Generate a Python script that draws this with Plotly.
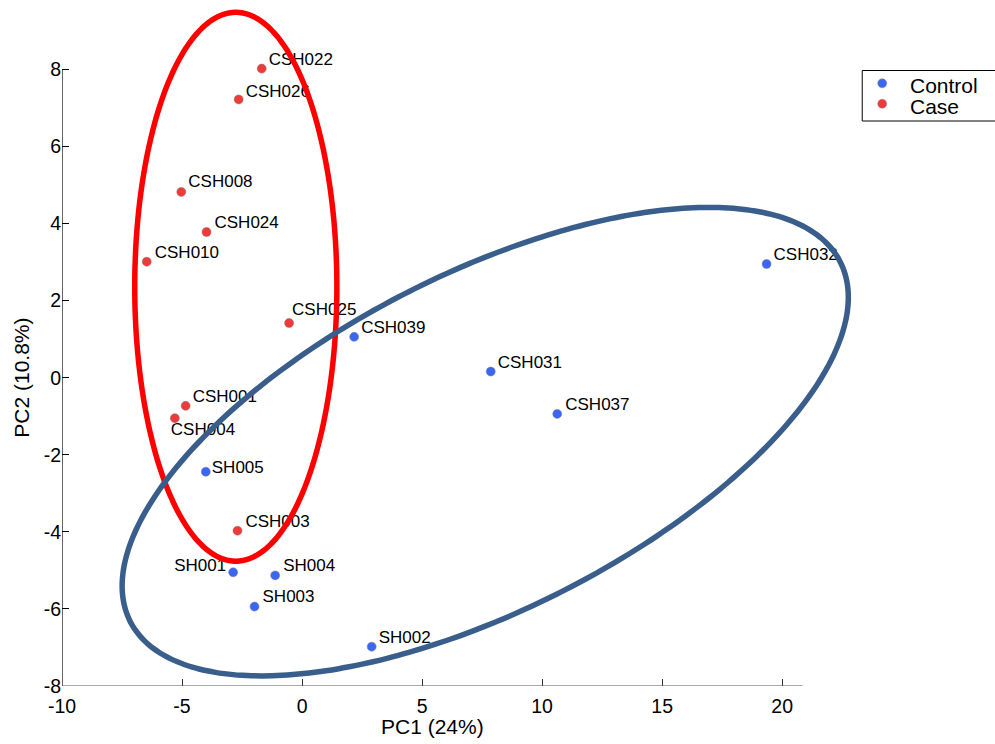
import numpy as np
import plotly.graph_objects as go

# ---------------- data ----------------
case_names = ["CSH022", "CSH026", "CSH008", "CSH024", "CSH010", "CSH025", "CSH001", "CSH004", "CSH003"]
case_pc1 = [-1.68, -2.64, -5.03, -3.98, -6.47, -0.54, -4.85, -5.30, -2.69]
case_pc2 = [8.02, 7.22, 4.82, 3.78, 3.01, 1.42, -0.73, -1.05, -3.97]

ctrl_names = ["CSH032", "CSH039", "CSH031", "CSH037", "SH005", "SH001", "SH004", "SH003", "SH002"]
ctrl_pc1 = [19.35, 2.17, 7.86, 10.63, -4.01, -2.87, -1.12, -1.98, 2.90]
ctrl_pc2 = [2.95, 1.06, 0.16, -0.94, -2.44, -5.05, -5.13, -5.94, -6.98]

# ellipse parameters: centre x, centre y, sd x, sd y, correlation
case_ellipse = [-2.76, 2.36, 4.21, 7.12, 0.0]
ctrl_ellipse = [7.63, -1.66, 15.125, 6.078, 0.616]

x_ticks = [-10, -5, 0, 5, 10, 15, 20]
x_ticktext = ["-10", "-5", "0", "5", "10", "15", "20"]
y_ticks = [-8, -6, -4, -2, 0, 2, 4, 6, 8]
y_ticktext = ["-8", "-6", "-4", "-2", "0", "2", "4", "6", "8"]
x_axis_end = 20.85
y_axis_end = 8

legend_names = ["Control", "Case"]

# ---------------- layout geometry ----------------
W, H = 995, 744
ML, MT, MB = 62, 0, 58
XR = [-10, 23.2]
YR = [-8, 9.8]
PXX = 24.02
PW = PXX * (XR[1] - XR[0])
MR = W - ML - PW
PH = H - MT - MB
px_x = PW / (XR[1] - XR[0])
px_y = PH / (YR[1] - YR[0])

FONT = "Liberation Sans, Arial, Helvetica, sans-serif"
BLUE = "#3a66f2"
RED = "#f03a3a"


def pxx(p):
    return (p - ML) / PW


def pxy(p):
    return 1 - (p - MT) / PH


# label offsets in pixels (dx, dy, side)
case_off = [(7, 8, "r"), (7, 7, "r"), (7, 9, "r"), (8, 8, "r"), (8, 8, "r"),
            (3, 12, "r"), (7, 8, "r"), (-4, -13, "r"), (8, 8, "r")]
ctrl_off = [(7, 8, "r"), (7, 8, "r"), (7, 8, "r"), (8, 8, "r"), (6, 3, "r"),
            (-7, 6, "l"), (8, 9, "r"), (8, 9, "r"), (7, 8, "r")]


def ellipse(params, n=181):
    cx, cy, sx, sy, rho = params
    t = np.linspace(0, 2 * np.pi, n)
    x = cx + sx * np.cos(t)
    y = cy + sy * (rho * np.cos(t) + np.sqrt(1 - rho ** 2) * np.sin(t))
    return x, y


fig = go.Figure()

fig.add_trace(go.Scatter(x=ctrl_pc1, y=ctrl_pc2, mode="markers", name="Control", showlegend=False,
                         marker=dict(color=BLUE, size=9, line=dict(color="#7a7a9a", width=0.5))))
fig.add_trace(go.Scatter(x=case_pc1, y=case_pc2, mode="markers", name="Case", showlegend=False,
                         marker=dict(color=RED, size=9, line=dict(color="#8a6a6a", width=0.5))))


def add_labels(names, xs, ys, offs):
    for side in ("r", "l"):
        lx, ly, lt = [], [], []
        for n, x, y, (dx, dy, s) in zip(names, xs, ys, offs):
            if s != side:
                continue
            lx.append(x + dx / px_x)
            ly.append(y + dy / px_y)
            lt.append(n)
        if lt:
            fig.add_trace(go.Scatter(x=lx, y=ly, text=lt, mode="text",
                                     textposition="middle right" if side == "r" else "middle left",
                                     textfont=dict(family=FONT, size=17, color="black"),
                                     showlegend=False, hoverinfo="skip", cliponaxis=False))


add_labels(ctrl_names, ctrl_pc1, ctrl_pc2, ctrl_off)
add_labels(case_names, case_pc1, case_pc2, case_off)

ex, ey = ellipse(case_ellipse)
fig.add_trace(go.Scatter(x=ex, y=ey, mode="lines",
                         line=dict(color="#ff0000", width=5.5, shape="spline", smoothing=1),
                         showlegend=False, hoverinfo="skip"))
ex, ey = ellipse(ctrl_ellipse)
fig.add_trace(go.Scatter(x=ex, y=ey, mode="lines",
                         line=dict(color="#3a5e8c", width=5.5, shape="spline", smoothing=1),
                         showlegend=False, hoverinfo="skip"))

# axis lines
fig.add_shape(type="line", xref="x", yref="y", x0=XR[0], x1=XR[0], y0=YR[0], y1=y_axis_end,
              line=dict(color="black", width=1.2), layer="above")
fig.add_shape(type="line", xref="x", yref="y", x0=XR[0], x1=x_axis_end, y0=YR[0], y1=YR[0],
              line=dict(color="#555555", width=1.2), layer="above")

# legend box (manual, to match compact spacing)
fig.add_shape(type="rect", xref="paper", yref="paper", x0=pxx(862.7), x1=pxx(1005),
              y0=pxy(121), y1=pxy(70.5), line=dict(color="black", width=1), fillcolor="white",
              layer="above")
for i, (nm, col) in enumerate(zip(legend_names, [BLUE, RED])):
    cy_px = 83.3 + 20.5 * i
    fig.add_shape(type="circle", xref="paper", yref="paper", xsizemode="pixel", ysizemode="pixel",
                  xanchor=pxx(882.7), yanchor=pxy(cy_px), x0=-4.5, x1=4.5, y0=-4.5, y1=4.5,
                  fillcolor=col, line=dict(color="#888888", width=0.5), layer="above")
    fig.add_annotation(text=nm, xref="paper", yref="paper", x=pxx(908), y=pxy(cy_px + 2.5),
                       xanchor="left", yanchor="middle", showarrow=False,
                       font=dict(size=21, family=FONT, color="black"))

fig.update_layout(
    width=W, height=H,
    margin=dict(l=ML, r=MR, t=MT, b=MB, autoexpand=False),
    paper_bgcolor="white", plot_bgcolor="white",
    font=dict(family=FONT, color="black"),
    hovermode=False,
    xaxis=dict(range=XR, tickvals=x_ticks, ticktext=x_ticktext, showgrid=False, zeroline=False,
               showline=False, ticks="inside", ticklen=7, automargin=False, ticklabelstandoff=6,
               tickcolor="#333333", tickfont=dict(size=19.5, family=FONT)),
    yaxis=dict(range=YR, tickvals=y_ticks, ticktext=y_ticktext, showgrid=False, zeroline=False,
               showline=False, ticks="inside", ticklen=7, tickcolor="black", automargin=False,
               tickfont=dict(size=19.5, family=FONT)),
    showlegend=False,
)

fig.add_annotation(text="PC1 (24%)", xref="paper", yref="paper", x=pxx(432.5),
                   y=pxy(726), xanchor="center", yanchor="middle",
                   showarrow=False, font=dict(size=21, family=FONT))
fig.add_annotation(text="PC2 (10.8%)", xref="paper", yref="y", x=pxx(22), y=0,
                   xanchor="center", yanchor="middle", textangle=-90,
                   showarrow=False, font=dict(size=21, family=FONT))

fig.write_html("out.html", config={"displayModeBar": False},
               post_script="document.body.style.margin='0';document.body.style.padding='0';"
                           "document.body.style.overflow='hidden';")
